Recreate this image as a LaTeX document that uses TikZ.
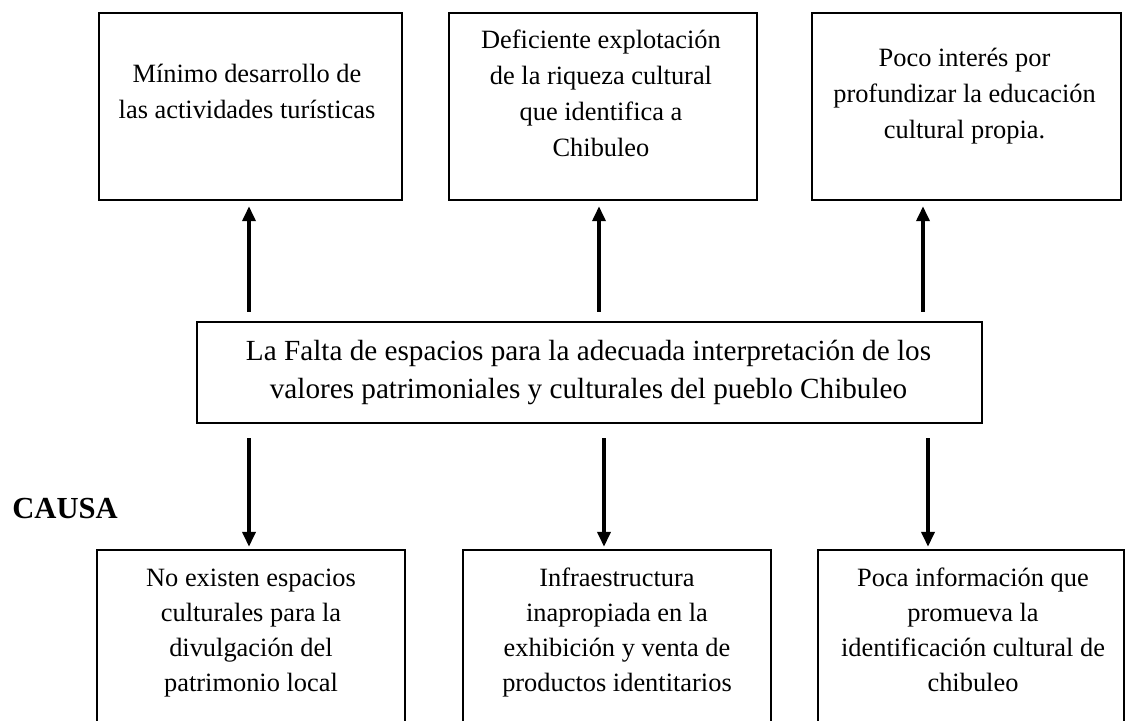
\documentclass[tikz,border=0pt]{standalone}
\usepackage{fontspec}
\setmainfont{Liberation Serif}
\usetikzlibrary{arrows.meta}
\begin{document}
\begin{tikzpicture}[x=0.5pt,y=-0.5pt,
   caja/.style={draw,line width=1.2pt,inner sep=0pt},
   texto/.style={anchor=north,align=center,inner sep=0pt,
     font=\fontsize{13.2}{18}\selectfont},
   flecha/.style={line width=1.8pt,-{Triangle[length=7.5pt,width=6.5pt]}}]
   \useasboundingbox (0,0) rectangle (1126,720);
   \clip (0,0) rectangle (1126,720);

   % efectos
   \node[caja,minimum width=151.5pt,minimum height=93.5pt] (e1) at (250.5,106.5) {};
   \node[caja,minimum width=154pt,minimum height=93.5pt] (e2) at (603,106.5) {};
   \node[caja,minimum width=154.5pt,minimum height=93.5pt] (e3) at (966.5,106.5) {};
   \node[texto] (e1t) at (247,56.8) {\strut M\'inimo desarrollo de\\las actividades tur\'isticas};
   \node[texto] (e2t) at (601,22.8) {\strut Deficiente explotaci\'on\\de la riqueza cultural\\que identifica a\\Chibuleo};
   \node[texto] (e3t) at (964.5,40.8) {\strut Poco inter\'es por\\profundizar la educaci\'on\\cultural propia.};

   % problema
   \node[caja,minimum width=392.5pt,minimum height=50.5pt] (p) at (589.5,372.5) {};
   \node[texto,font=\fontsize{14.6}{19}\selectfont] (pt) at (588.5,333.4)
     {\strut La Falta de espacios para la adecuada interpretaci\'on de los\\valores patrimoniales y culturales del pueblo Chibuleo};

   % causas
   \node[anchor=base west,inner sep=0pt,font=\fontsize{15.3}{18}\selectfont\bfseries] (causa) at (12,518) {CAUSA};
   \node[caja,minimum width=154pt,minimum height=105pt] (c1) at (251,655) {};
   \node[caja,minimum width=154pt,minimum height=105pt] (c2) at (617,655) {};
   \node[caja,minimum width=153pt,minimum height=105pt] (c3) at (971,655) {};
   \node[texto,font=\fontsize{13.2}{17.5}\selectfont] (c1t) at (251,561.5) {\strut No existen espacios\\culturales para la\\divulgaci\'on del\\patrimonio local};
   \node[texto,font=\fontsize{13.2}{17.5}\selectfont] (c2t) at (617,561.5) {\strut Infraestructura\\inapropiada en la\\exhibici\'on y venta de\\productos identitarios};
   \node[texto,font=\fontsize{13.2}{17.5}\selectfont] (c3t) at (973,561.5) {\strut Poca informaci\'on que\\promueva la\\identificaci\'on cultural de\\chibuleo};

   % flechas hacia los efectos
   \draw[flecha,shorten <=4.5pt,shorten >=2.5pt] ([xshift=-0.75pt]e1.south |- p.north) -- ([xshift=-0.75pt]e1.south);
   \draw[flecha,shorten <=4.5pt,shorten >=2.5pt] ([xshift=-2pt]e2.south |- p.north) -- ([xshift=-2pt]e2.south);
   \draw[flecha,shorten <=4.5pt,shorten >=2.5pt] ([xshift=-21.75pt]e3.south |- p.north) -- ([xshift=-21.75pt]e3.south);
   % flechas hacia las causas
   \draw[flecha,shorten <=7pt,shorten >=1pt] ([xshift=-1pt]c1.north |- p.south) -- ([xshift=-1pt]c1.north);
   \draw[flecha,shorten <=7pt,shorten >=1pt] ([xshift=-6.5pt]c2.north |- p.south) -- ([xshift=-6.5pt]c2.north);
   \draw[flecha,shorten <=7pt,shorten >=1pt] ([xshift=-21.5pt]c3.north |- p.south) -- ([xshift=-21.5pt]c3.north);
\end{tikzpicture}
\end{document}
